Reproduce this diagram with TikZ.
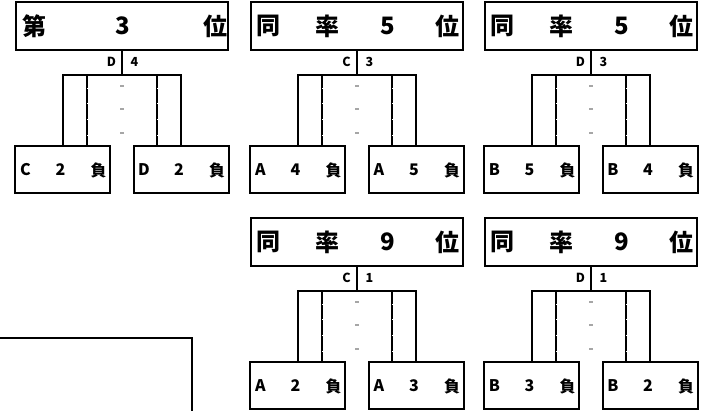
\documentclass[tikz,border=0pt]{standalone}
\usepackage{fontspec}
\setmainfont{Noto Sans CJK JP}
\tikzset{
  box/.style={draw, line width=2pt, inner sep=0pt, fill=white},
  topbox/.style={box, minimum width=212pt, minimum height=48pt},
  leafbox/.style={box, minimum width=95pt, minimum height=47pt},
  line/.style={line width=2pt},
  big/.style={font=\fontsize{24}{24}\selectfont\bfseries, inner sep=0pt},
  mid/.style={font=\fontsize{16}{16}\selectfont\bfseries, inner sep=0pt},
  lab/.style={font=\fontsize{12.5}{12.5}\selectfont\bfseries, inner sep=0pt},
  graydash/.style={black!35, line width=1.3pt}
}
% name, stem x, y offset, left label, right label
\newcommand\mytree[5]{%
  \node[topbox] (#1t) at (#2,#3+26) {};
  \node[leafbox] (#1l) at (#2-59.5,#3+169.5) {};
  \node[leafbox] (#1r) at (#2+59,#3+169.5) {};
  \draw[line] (#1t.south) -- ++(0,24) coordinate (#1j);
  \draw[line] (#1l.north) |- (#1j) -| (#1r.north);
  \coordinate (#1a) at ([xshift=24pt]#1l.north);
  \coordinate (#1b) at ([xshift=-24pt]#1r.north);
  \draw[line] (#1a) -- (#1a |- #1j);
  \draw[line] (#1b) -- (#1b |- #1j);
  \foreach \yy in {89,104,120,136}{
    \fill[white] (#2-35.5,#3+\yy-0.5) rectangle ++(1.3,1);
    \fill[white] (#2+35,#3+\yy-0.5) rectangle ++(1.3,1);
  }
  \foreach \yy in {86,109,133}{
    \draw[graydash] (#2-2,#3+\yy) -- ++(4,0);
  }
  \node[lab] (#1p) at (#2-10.5,#3+61.5) {#4};
  \node[lab] (#1q) at (#2+12.5,#3+61.5) {#5};
}
% name, box centre x, y offset, three texts
\newcommand\leaftext[6]{%
  \node[mid] (#1x) at (#2-37,#3+170) {#4};
  \node[mid] (#1y) at (#2-2,#3+170) {#5};
  \node[mid] (#1z) at (#2+36,#3+170) {#6};
}
% name, stem x, y offset, three texts
\newcommand\toptext[6]{%
  \node[big] (#1w) at (#2-89,#3+26) {#4};
  \node[big] (#1x) at (#2-29.5,#3+26) {#5};
  \node[big] (#1y) at (#2+30.5,#3+26) {#6};
}
\begin{document}
\begin{tikzpicture}[x=1pt,y=-1pt]
  \useasboundingbox (0,0) rectangle (710,411);
  % tree 1
  \mytree{A}{122}{0}{D}{4}
  \node[big] (Aw) at (34,26) {第};
  \node[big] (Ax) at (123,26) {3};
  \node[big] (Ay) at (215,26) {位};
  \leaftext{AL}{62.5}{0}{C}{2}{負}
  \leaftext{AR}{181}{0}{D}{2}{負}
  % tree 2
  \mytree{B}{357}{0}{C}{3}
  \toptext{B}{357}{0}{同}{率}{5}
  \node[big] (Bz) at (357+90,26) {位};
  \leaftext{BL}{297.5}{0}{A}{4}{負}
  \leaftext{BR}{416}{0}{A}{5}{負}
  % tree 3
  \mytree{C}{591}{0}{D}{3}
  \toptext{C}{591}{0}{同}{率}{5}
  \node[big] (Cz) at (591+90,26) {位};
  \leaftext{CL}{531.5}{0}{B}{5}{負}
  \leaftext{CR}{650}{0}{B}{4}{負}
  % tree 4
  \mytree{D}{357}{216}{C}{1}
  \toptext{D}{357}{216}{同}{率}{9}
  \node[big] (Dz) at (357+90,216+26) {位};
  \leaftext{DL}{297.5}{216}{A}{2}{負}
  \leaftext{DR}{416}{216}{A}{3}{負}
  % tree 5
  \mytree{E}{591}{216}{D}{1}
  \toptext{E}{591}{216}{同}{率}{9}
  \node[big] (Ez) at (591+90,216+26) {位};
  \leaftext{EL}{531.5}{216}{B}{3}{負}
  \leaftext{ER}{650}{216}{B}{2}{負}
  % partial box at bottom left
  \draw[line] (0,338) -- (192,338) -- (192,411);
\end{tikzpicture}
\end{document}
